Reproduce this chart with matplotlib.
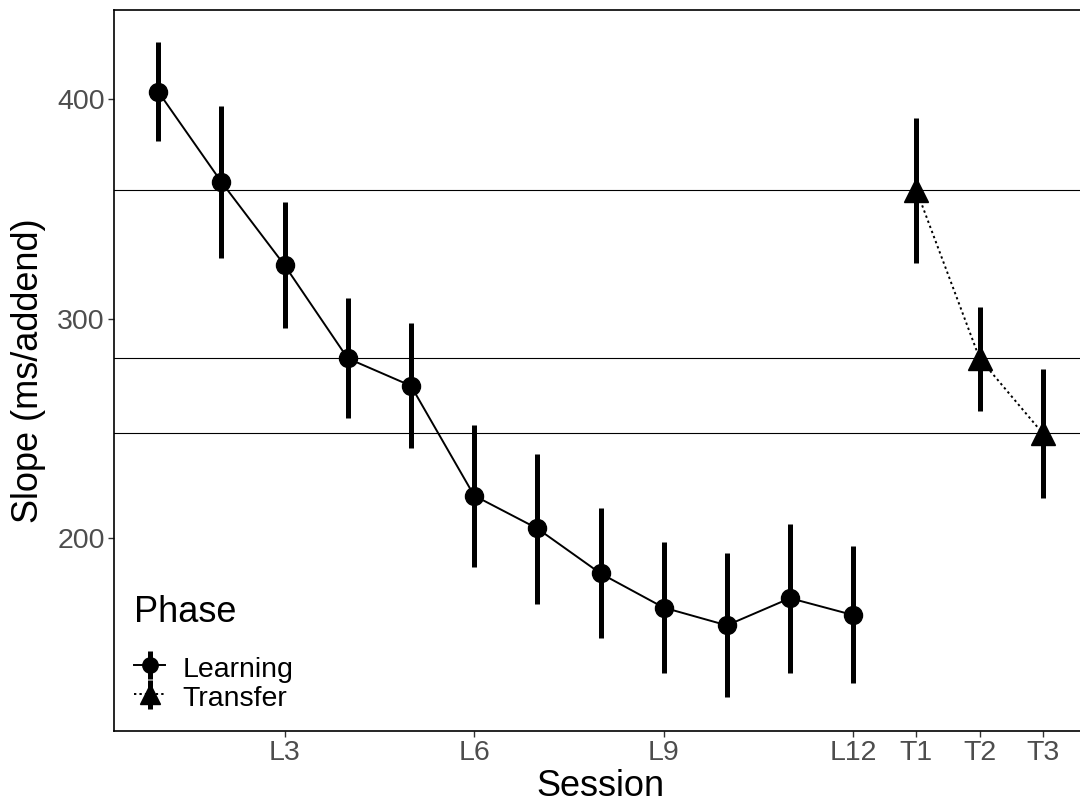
import numpy as np
import matplotlib
matplotlib.use("Agg")
import matplotlib.pyplot as plt

plt.rcParams['font.family'] = ['Liberation Sans', 'DejaVu Sans']

# learning sessions L1..L12
learn_labels = ["L1", "L2", "L3", "L4", "L5", "L6", "L7", "L8", "L9", "L10", "L11", "L12"]
learn_mean = [403.5, 362.3, 324.3, 281.8, 269.3, 219.2, 204.2, 183.7, 168.1, 160.0, 172.4, 164.7]
learn_lo = [380.8, 327.7, 295.7, 254.6, 241.1, 186.6, 169.6, 154.1, 138.1, 127.3, 138.1, 133.6]
learn_hi = [426.0, 396.8, 353.0, 309.5, 297.9, 251.4, 238.3, 213.4, 198.1, 193.2, 206.3, 196.2]

# transfer sessions T1..T3
trans_labels = ["T1", "T2", "T3"]
trans_mean = [358.6, 281.8, 247.6]
trans_lo = [325.2, 257.8, 218.2]
trans_hi = [391.3, 305.1, 276.8]

shown_ticks = ["L3", "L6", "L9", "L12", "T1", "T2", "T3"]

all_labels = learn_labels + trans_labels
xl = np.arange(1, len(learn_labels) + 1)
xt = np.arange(len(learn_labels) + 1, len(all_labels) + 1)

lm = np.array(learn_mean)
tm = np.array(trans_mean)
lerr = [lm - np.array(learn_lo), np.array(learn_hi) - lm]
terr = [tm - np.array(trans_lo), np.array(trans_hi) - tm]

fig = plt.figure(figsize=(10.8, 8.08), dpi=100)
ax = fig.add_axes([114 / 1080, 1 - 731 / 808, (1087 - 114) / 1080, (731 - 9.5) / 808])

# reference lines at the transfer means
for v in trans_mean:
    ax.axhline(v, color="black", lw=0.8, zorder=1)

h1 = ax.errorbar(xl, lm, yerr=lerr, fmt="-o", color="black", lw=1.4,
                 elinewidth=3.6, markersize=13, capsize=0, zorder=3,
                 label="Learning")
h2 = ax.errorbar(xt, tm, yerr=terr, fmt="^", linestyle=(0, (1.2, 1.6)),
                 color="black", lw=1.4, elinewidth=3.6, markersize=17,
                 capsize=0, zorder=3, label="Transfer")

ax.set_xlim(0.3, 15.7)
ax.set_ylim(111.8, 441)
ax.set_yticks([200, 300, 400])
ax.set_xticks([all_labels.index(t) + 1 for t in shown_ticks])
ax.set_xticklabels(shown_ticks)

ax.tick_params(axis="both", labelsize=20.5, labelcolor="#4D4D4D",
               color="#333333", length=4.5, width=1, pad=2)
for s in ["left", "bottom", "top"]:
    ax.spines[s].set_linewidth(1.2)
ax.spines["right"].set_visible(False)

ax.set_xlabel("Session", fontsize=26, labelpad=2)
ax.set_ylabel("Slope (ms/addend)", fontsize=26, labelpad=8)

# legend title placed on its own, entries below it
fig.text(134 / 1080, 1 - 613 / 808, "Phase", fontsize=26, va="center", ha="left")
leg = ax.legend(handles=[h1, h2], loc="lower left",
                bbox_to_anchor=(134 / 1080, 1 - 712 / 808),
                bbox_transform=fig.transFigure, frameon=False,
                fontsize=20.5, handlelength=1.1, handleheight=1.1,
                handletextpad=0.6, markerscale=0.85, labelspacing=0.0,
                borderaxespad=0, borderpad=0)

fig.savefig("out.png", dpi=100)
